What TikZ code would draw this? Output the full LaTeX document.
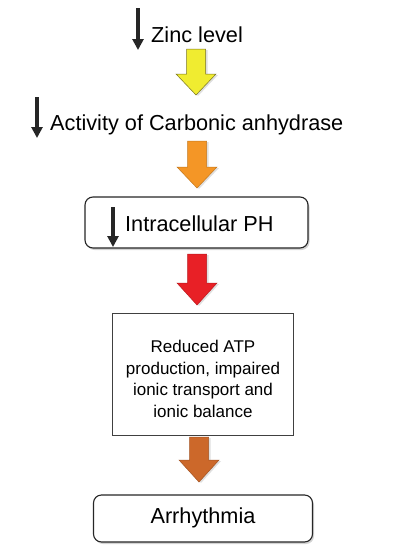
\documentclass[tikz,border=0pt]{standalone}
\usepackage{fontspec}
\setmainfont{Liberation Sans}
\usetikzlibrary{arrows.meta,shadows}
\definecolor{zyellow}{RGB}{240,236,48}
\definecolor{zyellowd}{RGB}{120,115,30}
\definecolor{zorange}{RGB}{244,150,38}
\definecolor{zred}{RGB}{232,32,38}
\definecolor{zbrown}{RGB}{204,104,42}
\tikzset{
  bigtxt/.style={font=\fontsize{21.7}{26}\selectfont, inner sep=0pt},
  smalltxt/.style={font=\fontsize{17}{21.7}\selectfont, align=center},
  downmark/.style={draw=black!85, line width=3.2pt, -{Triangle[width=11pt,length=11pt]}},
  roundbox/.style={draw=black!85, line width=1.1pt, rounded corners=8pt, fill=white,
    drop shadow={shadow xshift=1.5pt, shadow yshift=-2pt, opacity=0.35}},
  squarebox/.style={draw=black!75, line width=1pt, fill=white},
  blockarrow/.style={line width=0.5pt, drop shadow={shadow xshift=2pt, shadow yshift=-1pt, opacity=0.25}}
}
\newcommand{\blockarr}[6]{% style, cx, top, neck, tip, colors
  \path[blockarrow,#1] (#2-9.5,#3) -- (#2+9.5,#3) -- (#2+9.5,#4) -- (#2+20,#4) -- (#2,#5) -- (#2-20,#4) -- (#2-9.5,#4) -- cycle;}
\begin{document}
\begin{tikzpicture}[x=1pt,y=-1pt]
\useasboundingbox (0,0) rectangle (414,557);
% Zinc level
\coordinate (z1) at (138,8);
\coordinate (z2) at (138,50);
\draw[downmark] (z1) -- (z2);
\node[bigtxt, anchor=west] (zinc) at (151,35) {Zinc level};
\blockarr{fill=zyellow,draw=zyellowd}{196}{49}{74}{95}{}
% Activity
\coordinate (a1) at (37,97);
\coordinate (a2) at (37,138);
\draw[downmark] (a1) -- (a2);
\node[bigtxt, anchor=west] (act) at (50,125) {Activity of Carbonic anhydrase};
\blockarr{fill=zorange,draw=zorange!80!black}{197}{141}{167}{188}{}
% Intracellular PH
\node[roundbox, minimum width=223pt, minimum height=51pt, inner sep=0pt] (ph) at (196.5,222.5) {};
\coordinate (p1) at (113,207);
\coordinate (p2) at (113,247);
\draw[downmark] (p1) -- (p2);
\node[bigtxt, anchor=west] (phtxt) at (125,224) {Intracellular PH};
\blockarr{fill=zred,draw=zred!80!black}{197}{254}{283}{305}{}
% ATP box
\node[squarebox, minimum width=181pt, minimum height=122pt, inner sep=0pt] (atp) at (202.5,374) {};
\node[smalltxt] (atptxt) at (203,379) {Reduced ATP\\production, impaired\\ionic transport and\\ionic balance};
\blockarr{fill=zbrown,draw=zbrown!80!black}{199}{437}{460}{482}{}
% Arrhythmia
\node[roundbox, minimum width=219pt, minimum height=47pt, inner sep=0pt] (arr) at (203,518.5) {};
\node[bigtxt] (arrtxt) at (203,518) {Arrhythmia};
\end{tikzpicture}
\end{document}
